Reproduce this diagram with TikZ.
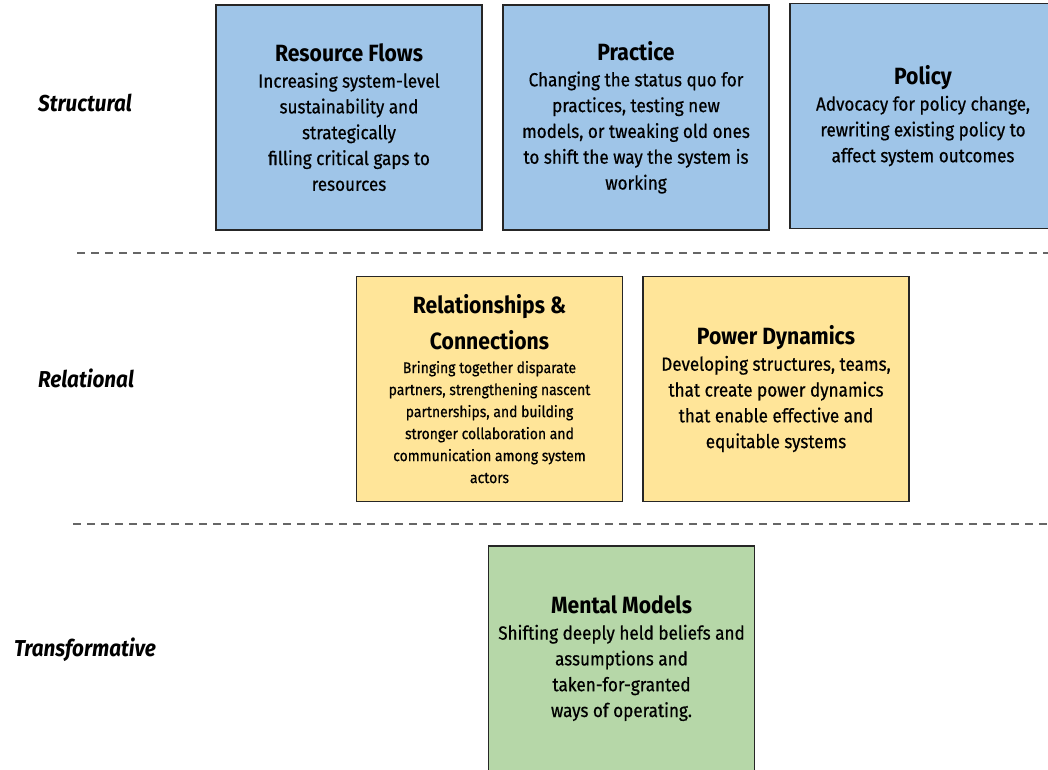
\documentclass[tikz,border=0pt]{standalone}
\usepackage{fontspec}
\setmainfont{Fira Sans}[FakeStretch=0.9,UprightFeatures={FakeBold=0.6}]

\definecolor{structblue}{HTML}{9FC5E8}
\definecolor{relyellow}{HTML}{FFE599}
\definecolor{transgreen}{HTML}{B6D7A8}

\newcommand{\cardtitle}[1]{{\fontsize{23.5}{27}\selectfont\bfseries #1}}

\begin{document}
\begin{tikzpicture}[x=1pt,y=-1pt,
  card/.style={draw=black!85,line width=1.3pt,minimum width=266pt,minimum height=225pt,
    inner sep=0pt,align=center,font=\fontsize{19}{25.8}\selectfont},
  smallcard/.style={card,font=\fontsize{15.5}{22}\selectfont},
  level/.style={font=\fontsize{23}{26}\selectfont\bfseries\itshape},
  divider/.style={draw=black!60,line width=1.4pt,dash pattern=on 8pt off 6pt}]
\useasboundingbox (0,0) rectangle (1048,769);
\clip (0,0) rectangle (1048,769);

% row labels
\node[level] (structural) at (85,103){Structural};
\node[level] (relational) at (86,378){Relational};
\node[level] (transformative) at (85,650){Transformative};

% structural row
\node[card,fill=structblue] (flows) at (349,117.5){\cardtitle{Resource Flows}\\Increasing system-level\\sustainability and\\strategically\\filling critical gaps to\\resources};
\node[card,fill=structblue] (practice) at (636,117.5){\cardtitle{Practice}\\Changing the status quo for\\practices, testing new\\models, or tweaking old ones\\to shift the way the system is\\working};
\node[card,fill=structblue] (policy) at (923,116){\cardtitle{Policy}\\Advocacy for policy change,\\rewriting existing policy to\\affect system outcomes};

% relational row
\node[smallcard,fill=relyellow] (relations) at (489.5,389){\cardtitle{Relationships \&}\\[10pt]\cardtitle{Connections}\\[2pt]Bringing together disparate\\partners, strengthening nascent\\partnerships, and building\\stronger collaboration and\\communication among system\\actors};
\node[card,fill=relyellow] (power) at (776,389){\cardtitle{Power Dynamics}\\Developing structures, teams,\\that create power dynamics\\that enable effective and\\equitable systems};

% transformative row
\node[card,fill=transgreen] (mental) at (621.5,658.5){\cardtitle{Mental Models}\\Shifting deeply held beliefs and\\assumptions and\\taken-for-granted\\ways of operating.};

% separators between rows
\coordinate (sepA) at (77,253);
\coordinate (sepB) at (73,524);
\draw[divider] (sepA) -- (1048,253);
\draw[divider] (sepB) -- (1048,524);
\end{tikzpicture}
\end{document}
